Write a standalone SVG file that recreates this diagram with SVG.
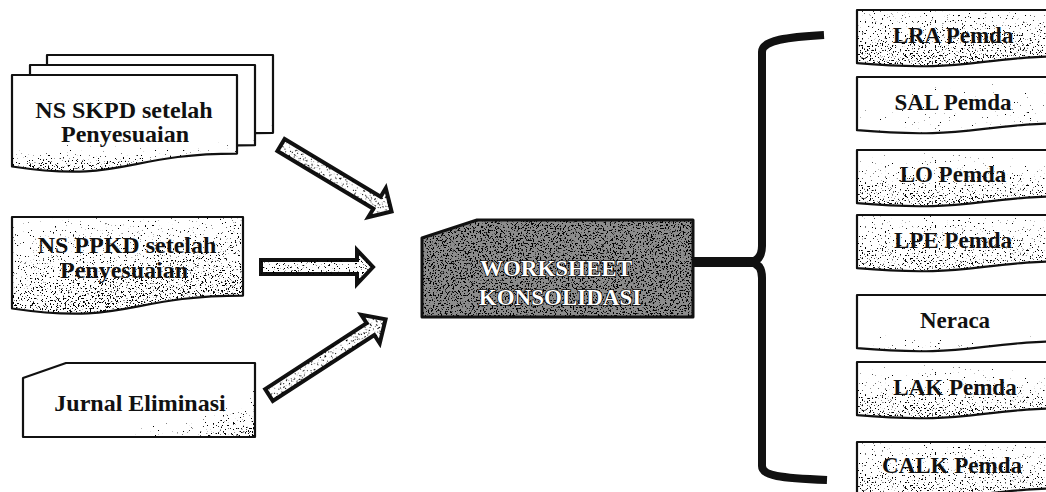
<svg xmlns="http://www.w3.org/2000/svg" xmlns:xlink="http://www.w3.org/1999/xlink" width="1046" height="492" viewBox="0 0 1046 492">
  <style>
    .paper{fill:#fff}
    .edge{fill:none;stroke:#111;stroke-width:2.2;stroke-linejoin:round}
    .lbl{font-family:"Liberation Serif","Times New Roman",serif;font-weight:bold;font-size:24px;fill:#111;text-anchor:middle}
    .lbl-r{font-size:23px}
    .lbl-w{fill:#fff;stroke:#111;stroke-width:1.6;paint-order:stroke;font-size:23px}
    .arrow{fill:#fff;stroke:#111;stroke-width:4;stroke-linejoin:miter}
    .brace{fill:none;stroke:#111;stroke-width:8;stroke-linecap:butt;stroke-linejoin:round}
  </style>
  <defs>
    <!-- newsprint speckle: density follows the alpha of the painted shape -->
    <filter id="grain" x="0" y="0" width="1" height="1" color-interpolation-filters="sRGB">
      <feTurbulence type="fractalNoise" baseFrequency="0.6" numOctaves="2" seed="7" result="noise"/>
      <feColorMatrix in="noise" type="matrix" values="0 0 0 0 0  0 0 0 0 0  0 0 0 0 0  1 0 0 0 0" result="na"/>
      <feComposite in="na" in2="SourceGraphic" operator="arithmetic" k1="0" k2="16" k3="7" k4="-15"/>
    </filter>
    <!-- speckle density ramps -->
    <linearGradient id="gBottom" x1="0" y1="0" x2="0" y2="1">
      <stop offset="0.55" stop-color="#000" stop-opacity="0"/>
      <stop offset="1" stop-color="#000" stop-opacity="0.9"/>
    </linearGradient>
    <linearGradient id="gLight" x1="0" y1="0" x2="0" y2="1">
      <stop offset="0.5" stop-color="#000" stop-opacity="0"/>
      <stop offset="1" stop-color="#000" stop-opacity="0.7"/>
    </linearGradient>
    <linearGradient id="gHeavy" x1="0" y1="0" x2="0.3" y2="1">
      <stop offset="0" stop-color="#000" stop-opacity="0.45"/>
      <stop offset="1" stop-color="#000" stop-opacity="0.85"/>
    </linearGradient>
    <linearGradient id="gCorner" x1="0" y1="0" x2="1" y2="1">
      <stop offset="0.45" stop-color="#000" stop-opacity="0"/>
      <stop offset="1" stop-color="#000" stop-opacity="0.85"/>
    </linearGradient>
    <linearGradient id="gR1" x1="0" y1="0" x2="0" y2="1">
      <stop offset="0" stop-color="#000" stop-opacity="0.55"/>
      <stop offset="1" stop-color="#000" stop-opacity="0.85"/>
    </linearGradient>
    <linearGradient id="gR2" x1="0" y1="0" x2="1" y2="1">
      <stop offset="0" stop-color="#000" stop-opacity="0.2"/>
      <stop offset="1" stop-color="#000" stop-opacity="0.65"/>
    </linearGradient>
    <linearGradient id="gR3" x1="0" y1="0" x2="0" y2="1">
      <stop offset="0" stop-color="#000" stop-opacity="0.35"/>
      <stop offset="1" stop-color="#000" stop-opacity="0.85"/>
    </linearGradient>
    <linearGradient id="gR4" x1="0" y1="0" x2="0" y2="1">
      <stop offset="0" stop-color="#000" stop-opacity="0.5"/>
      <stop offset="1" stop-color="#000" stop-opacity="0.8"/>
    </linearGradient>
    <linearGradient id="gFlat" x1="0" y1="0" x2="0" y2="1">
      <stop offset="0" stop-color="#000" stop-opacity="0.7"/>
      <stop offset="1" stop-color="#000" stop-opacity="0.7"/>
    </linearGradient>
    <linearGradient id="gDark" x1="0" y1="0" x2="0" y2="1">
      <stop offset="0" stop-color="#000" stop-opacity="0.85"/>
      <stop offset="1" stop-color="#000" stop-opacity="0.85"/>
    </linearGradient>

    <!-- wavy-bottom document outlines -->
    <path id="docR" d="M0,0 H230 V45.7 C115,45.7 115,63.1 0,53.2 Z"/>
    <path id="docSkpd3" d="M47,55 H273 V132.8 C160,132.8 160,162.4 47,145.6 Z"/>
    <path id="docSkpd2" d="M30,65 H255 V145.2 C142.5,145.2 142.5,175.7 30,158.4 Z"/>
    <path id="docSkpd1" d="M12,75 H237 V153.6 C124.5,153.6 124.5,183.5 12,166.5 Z"/>
    <path id="docPpkd" d="M12,217 H243 V295.6 C127.5,295.6 127.5,325.5 12,308.5 Z"/>
    <path id="cardJurnal" d="M23,378 L66,363 H255 V437 H23 Z"/>
    <path id="cardWs" d="M422,238 L477,220 H693 V317 H422 Z"/>
    <path id="arrowA" d="M0,-7 H112 V-17 L129,0 L112,17 V7 H0 Z"/>
    <path id="arrowB" d="M0,-7 H96 V-17 L112,0 L96,17 V7 H0 Z"/>
    <path id="arrowC" d="M0,-7 H121 V-17 L139,0 L121,17 V7 H0 Z"/>
  </defs>

  <!-- source documents -->
  <g id="ns-skpd">
    <use href="#docSkpd3" class="paper"/>
    <use href="#docSkpd3" fill="url(#gLight)" filter="url(#grain)"/>
    <use href="#docSkpd3" class="edge"/>
    <use href="#docSkpd2" class="paper"/>
    <use href="#docSkpd2" fill="url(#gLight)" filter="url(#grain)"/>
    <use href="#docSkpd2" class="edge"/>
    <use href="#docSkpd1" class="paper"/>
    <use href="#docSkpd1" fill="url(#gBottom)" filter="url(#grain)"/>
    <use href="#docSkpd1" class="edge"/>
    <text class="lbl" x="124" y="118">NS SKPD setelah</text>
    <text class="lbl" x="125" y="142">Penyesuaian</text>
  </g>

  <g id="ns-ppkd">
    <use href="#docPpkd" class="paper"/>
    <use href="#docPpkd" fill="url(#gHeavy)" filter="url(#grain)"/>
    <use href="#docPpkd" class="edge"/>
    <text class="lbl" x="127" y="253">NS PPKD setelah</text>
    <text class="lbl" x="124" y="278">Penyesuaian</text>
  </g>

  <g id="jurnal-eliminasi">
    <use href="#cardJurnal" class="paper"/>
    <use href="#cardJurnal" fill="url(#gCorner)" filter="url(#grain)"/>
    <use href="#cardJurnal" class="edge"/>
    <text class="lbl" x="140" y="411">Jurnal Eliminasi</text>
  </g>

  <!-- consolidation worksheet -->
  <g id="worksheet">
    <use href="#cardWs" fill="#8c8c8c"/>
    <use href="#cardWs" fill="url(#gDark)" filter="url(#grain)"/>
    <use href="#cardWs" class="edge" style="stroke-width:3"/>
    <text class="lbl lbl-w" x="556" y="276">WORKSHEET</text>
    <text class="lbl lbl-w" x="560" y="305">KONSOLIDASI</text>
  </g>

  <!-- output reports -->
  <g id="lra-pemda" transform="translate(857,10)">
    <use href="#docR" class="paper"/>
    <use href="#docR" fill="url(#gR1)" filter="url(#grain)"/>
    <use href="#docR" class="edge"/>
    <text class="lbl lbl-r" x="96" y="33">LRA Pemda</text>
  </g>
  <g id="sal-pemda" transform="translate(857,77)">
    <use href="#docR" class="paper"/>
    <use href="#docR" fill="url(#gR2)" filter="url(#grain)"/>
    <use href="#docR" class="edge"/>
    <text class="lbl lbl-r" x="96" y="33">SAL Pemda</text>
  </g>
  <g id="lo-pemda" transform="translate(857,150)">
    <use href="#docR" class="paper"/>
    <use href="#docR" fill="url(#gR3)" filter="url(#grain)"/>
    <use href="#docR" class="edge"/>
    <text class="lbl lbl-r" x="96" y="32">LO Pemda</text>
  </g>
  <g id="lpe-pemda" transform="translate(857,215)">
    <use href="#docR" class="paper"/>
    <use href="#docR" fill="url(#gR4)" filter="url(#grain)"/>
    <use href="#docR" class="edge"/>
    <text class="lbl lbl-r" x="96" y="33">LPE Pemda</text>
  </g>
  <g id="neraca" transform="translate(857,295)">
    <use href="#docR" class="paper"/>
    <use href="#docR" fill="url(#gLight)" filter="url(#grain)"/>
    <use href="#docR" class="edge"/>
    <text class="lbl lbl-r" x="98" y="33">Neraca</text>
  </g>
  <g id="lak-pemda" transform="translate(857,362)">
    <use href="#docR" class="paper"/>
    <use href="#docR" fill="url(#gR3)" filter="url(#grain)"/>
    <use href="#docR" class="edge"/>
    <text class="lbl lbl-r" x="98" y="33">LAK Pemda</text>
  </g>
  <g id="calk-pemda" transform="translate(857,442)">
    <use href="#docR" class="paper"/>
    <use href="#docR" fill="url(#gR4)" filter="url(#grain)"/>
    <use href="#docR" class="edge"/>
    <text class="lbl lbl-r" x="95" y="31">CALK Pemda</text>
  </g>

  <!-- connectors: block arrows in, bracket out -->
  <g id="connectors">
    <g transform="translate(281,145) rotate(31)">
      <use href="#arrowA" class="arrow"/>
      <use href="#arrowA" fill="url(#gFlat)" filter="url(#grain)"/>
    </g>
    <g transform="translate(261,267)">
      <use href="#arrowB" class="arrow"/>
      <use href="#arrowB" fill="url(#gFlat)" filter="url(#grain)"/>
    </g>
    <g transform="translate(269,395) rotate(-33)">
      <use href="#arrowC" class="arrow"/>
      <use href="#arrowC" fill="url(#gFlat)" filter="url(#grain)"/>
    </g>
    <path class="brace" style="stroke-width:10" d="M693,262 H754"/>
    <path class="brace" d="M824,35 C788,37 762,40 762,52 V246 C762,256 758,261 750,262 C758,263 762,268 762,278 V466 C762,476 780,478 827,480"/>
  </g>
</svg>
